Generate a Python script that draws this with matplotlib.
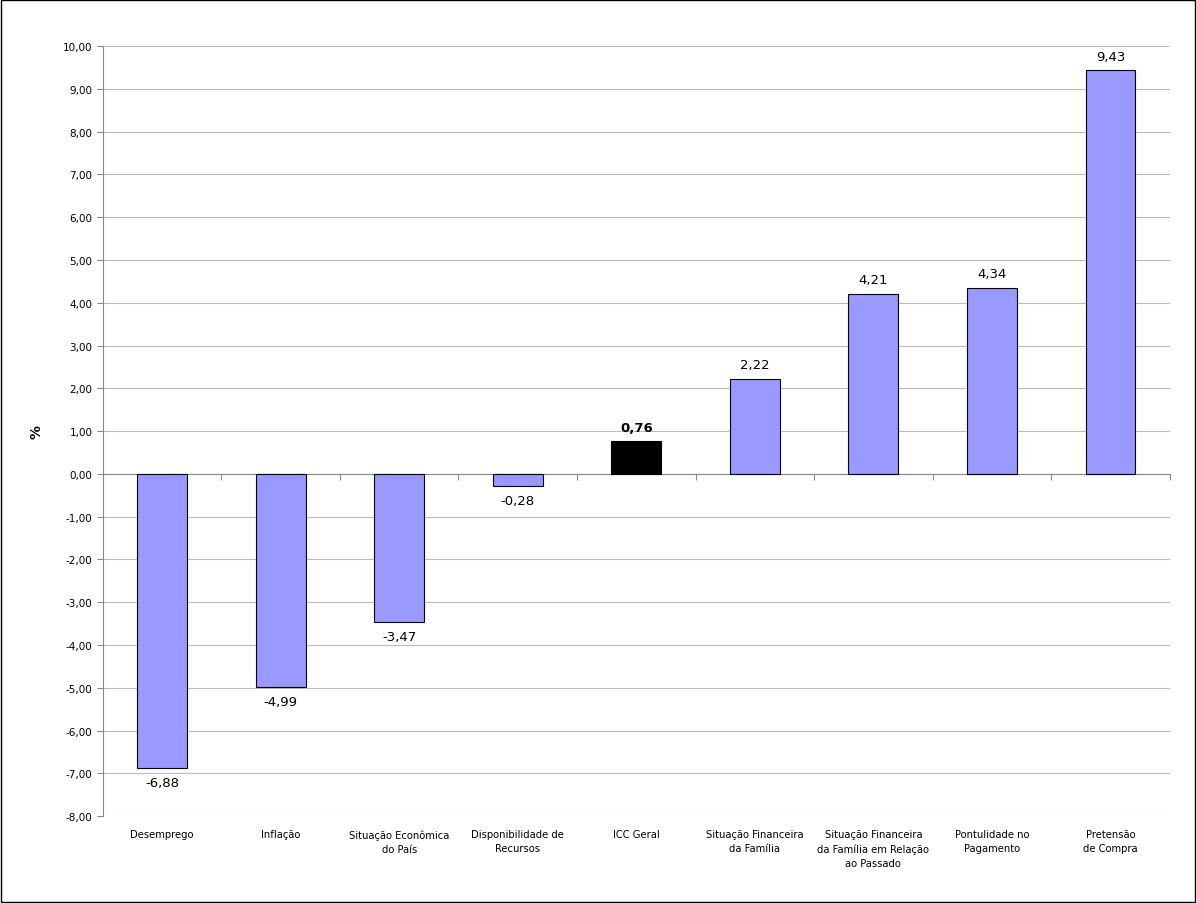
import matplotlib
matplotlib.use("Agg")
import matplotlib.pyplot as plt
import numpy as np

categories = ["Desemprego", "Inflação", "Situação Econômica\ndo País", "Disponibilidade de\nRecursos",
              "ICC Geral", "Situação Financeira\nda Família", "Situação Financeira\nda Família em Relação\nao Passado",
              "Pontulidade no\nPagamento", "Pretensão\nde Compra"]
values = [-6.88, -4.99, -3.47, -0.28, 0.76, 2.22, 4.21, 4.34, 9.43]
highlight = "ICC Geral"

fig = plt.figure(figsize=(11.96, 9.04), dpi=100)
fig.patches.append(plt.Rectangle((0.001, 0.001), 0.998, 0.998, transform=fig.transFigure,
                                 fill=False, edgecolor="black", linewidth=1))
ax = fig.add_axes([0.086, 0.096, 0.892, 0.852])
x = np.arange(len(categories))
colors = ["black" if c == highlight else "#9999FF" for c in categories]
ax.bar(x, values, width=0.42, color=colors, edgecolor="black", linewidth=0.8, zorder=3)
ax.set_ylim(-8, 10)
ax.set_xlim(-0.5, len(categories) - 0.5)
ax.set_yticks(np.arange(-8, 11, 1))
ax.set_yticklabels([f"{v:.2f}".replace(".", ",") for v in np.arange(-8, 11, 1)], fontsize=7.5)
ax.yaxis.grid(True, color="#bbbbbb", linewidth=0.8, zorder=0)
for s in ["top", "right"]:
    ax.spines[s].set_visible(False)
ax.spines["left"].set_color("#888888")
ax.spines["bottom"].set_position(("data", 0))
ax.spines["bottom"].set_color("#888888")
ax.set_xticks(np.arange(-0.5, len(categories), 1))
ax.set_xticklabels([])
ax.tick_params(axis="x", length=4, color="#888888")
ax.tick_params(axis="y", length=4, color="#888888")
ax.set_ylabel("%", fontsize=10, fontweight="bold", labelpad=14)
for xi, c in zip(x, categories):
    ax.text(xi, -8.3, c, ha="center", va="top", fontsize=7.2, linespacing=1.5, clip_on=False)
for xi, v, c in zip(x, values, categories):
    lbl = f"{v:.2f}".replace(".", ",")
    bold = c == highlight
    if v >= 0:
        ax.text(xi, v + 0.18, lbl, ha="center", va="bottom", fontsize=9.5,
                fontweight="bold" if bold else "normal")
    else:
        ax.text(xi, v - 0.18, lbl, ha="center", va="top", fontsize=9.5)
fig.savefig("out.png", dpi=100)
